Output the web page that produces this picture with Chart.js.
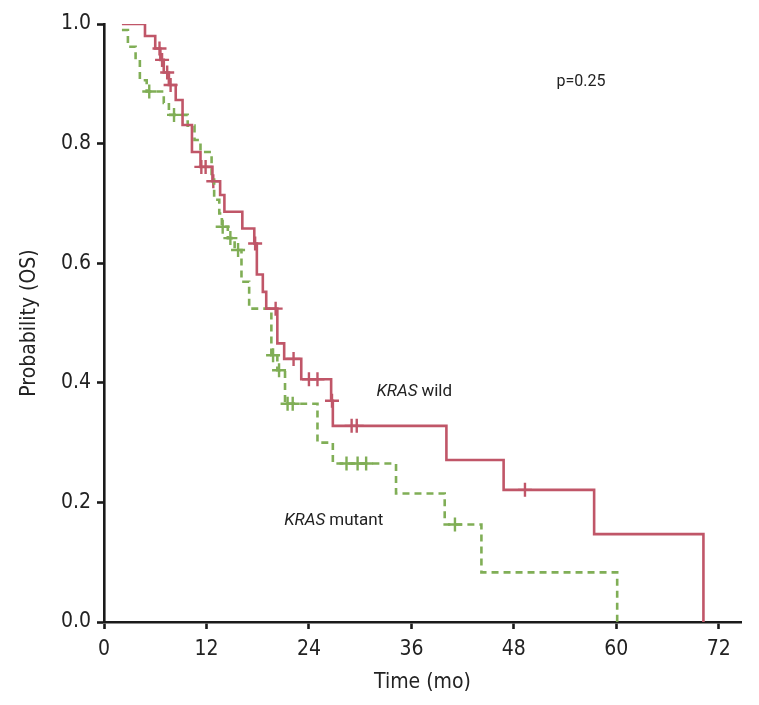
<!DOCTYPE html>
<html>
<head>
<meta charset="utf-8">
<script src="https://cdn.jsdelivr.net/npm/chart.js@4.4.1/dist/chart.umd.min.js"></script>
<style>
  html,body{margin:0;padding:0;background:#fff;}
  #wrap{width:759px;height:705px;}
</style>
</head>
<body>
<div id="wrap"><canvas id="chart" width="759" height="705"></canvas></div>
<script>
// KM steps: time (mo) and survival after the step
const wildT = [2.1, 4.8, 6.0, 6.6, 7.0, 7.6, 8.4, 9.2, 10.3, 11.3, 12.7, 13.6, 14.1, 16.2, 17.6, 17.9, 18.6, 19.0, 20.3, 21.1, 23.1, 26.6, 26.8, 40.1, 46.8, 57.4, 70.2];
const wildS = [1.0, 0.98, 0.959, 0.94, 0.919, 0.898, 0.873, 0.831, 0.786, 0.761, 0.737, 0.714, 0.686, 0.658, 0.633, 0.581, 0.552, 0.524, 0.466, 0.440, 0.406, 0.370, 0.328, 0.271, 0.221, 0.147, 0];
const wildCens = [6.5, 6.8, 7.4, 7.8, 11.4, 11.9, 12.8, 17.7, 20.1, 22.2, 24.0, 25.0, 26.7, 29.0, 29.6, 49.3];

const mutT = [2.1, 2.8, 3.7, 4.2, 5.0, 7.0, 7.6, 9.8, 10.6, 11.3, 12.6, 12.9, 13.5, 13.8, 14.5, 15.3, 16.1, 17.0, 19.6, 20.3, 21.2, 25.0, 26.8, 34.2, 39.9, 44.2, 60.1];
const mutS = [0.99, 0.962, 0.94, 0.906, 0.887, 0.868, 0.848, 0.83, 0.806, 0.786, 0.74, 0.706, 0.683, 0.661, 0.642, 0.622, 0.569, 0.524, 0.446, 0.421, 0.365, 0.300, 0.265, 0.215, 0.163, 0.083, 0];
const mutCens = [5.3, 8.2, 13.9, 14.8, 15.7, 19.8, 20.5, 21.5, 22.1, 28.4, 29.7, 30.7, 41.1];

const xTicks = [0, 12, 24, 36, 48, 60, 72];
const yTicks = [0, 0.2, 0.4, 0.6, 0.8, 1.0];

const RED = "rgb(192,86,104)";
const GREEN = "rgb(128,174,86)";

function steps(t, s){ return t.map((v,i)=>({x:v, y:s[i]})); }
function survAt(t, s, time){
  let v = s[0];
  for(let i=0;i<t.length;i++){ if(t[i] <= time) v = s[i]; }
  return v;
}
function cens(t, s, c){ return c.map(v=>({x:v, y:survAt(t, s, v)})); }

// "condensed" goes into the font shorthand through the weight slot
const tickFont = {family:"'DejaVu Sans'", weight:"condensed", size:21};

const textPlugin = {
  id:"kmText",
  afterDraw(chart){
    const ctx = chart.ctx, xs = chart.scales.x, ys = chart.scales.y;
    ctx.save();
    ctx.fillStyle = "#222";
    ctx.textBaseline = "middle";
    function label(it, rest, x, y){
      const px = xs.getPixelForValue(x), py = ys.getPixelForValue(y);
      ctx.font = "italic 17px Roboto";
      ctx.fillText(it, px, py);
      const w = ctx.measureText(it).width;
      ctx.font = "17px Roboto";
      ctx.fillText(rest, px + w + 4, py);
    }
    label("KRAS", "wild", 31.9, 0.385);
    label("KRAS", "mutant", 21.1, 0.17);
    ctx.font = "16px Roboto";
    ctx.fillText("p=0.25", xs.getPixelForValue(53.0), ys.getPixelForValue(0.903));
    ctx.restore();
  }
};

new Chart(document.getElementById("chart"),{
  type:"line",
  data:{
    datasets:[
      {label:"KRAS wild", data:steps(wildT, wildS), stepped:"before", borderColor:RED, borderWidth:2.6, pointRadius:0, fill:false},
      {label:"KRAS mutant", data:steps(mutT, mutS), stepped:"before", borderColor:GREEN, borderWidth:2.6, borderDash:[7,5], pointRadius:0, fill:false},
      {type:"scatter", data:cens(wildT, wildS, wildCens), pointStyle:"cross", pointRadius:7, borderColor:RED, borderWidth:2.4, showLine:false},
      {type:"scatter", data:cens(mutT, mutS, mutCens), pointStyle:"cross", pointRadius:7, borderColor:GREEN, borderWidth:2.4, showLine:false}
    ]
  },
  options:{
    responsive:false,
    animation:false,
    layout:{padding:{top:24, right:18, left:0, bottom:0}},
    plugins:{legend:{display:false}, tooltip:{enabled:false}},
    scales:{
      x:{
        type:"linear", min:0, max:74.6,
        afterBuildTicks(scale){ scale.ticks = xTicks.map(v=>({value:v})); },
        afterFit(scale){ scale.height = 83; },
        border:{color:"#1a1a1a", width:2.6},
        grid:{drawOnChartArea:false, tickLength:7, tickColor:"#1a1a1a", tickWidth:2.6},
        ticks:{color:"#222", font:tickFont, padding:8, maxRotation:0},
        title:{display:true, text:"Time (mo)", color:"#222", font:tickFont, padding:{top:2, bottom:10}}
      },
      y:{
        min:0, max:1,
        afterBuildTicks(scale){ scale.ticks = yTicks.map(v=>({value:v})); },
        afterFit(scale){ scale.width = 104; },
        border:{color:"#1a1a1a", width:2.6},
        grid:{drawOnChartArea:false, tickLength:7, tickColor:"#1a1a1a", tickWidth:2.6},
        ticks:{color:"#222", font:tickFont, padding:6, callback:v=>v.toFixed(1)},
        title:{display:true, text:"Probability (OS)", color:"#222", font:tickFont, padding:{top:17, bottom:0}}
      }
    }
  },
  plugins:[textPlugin]
});
</script>
</body>
</html>
